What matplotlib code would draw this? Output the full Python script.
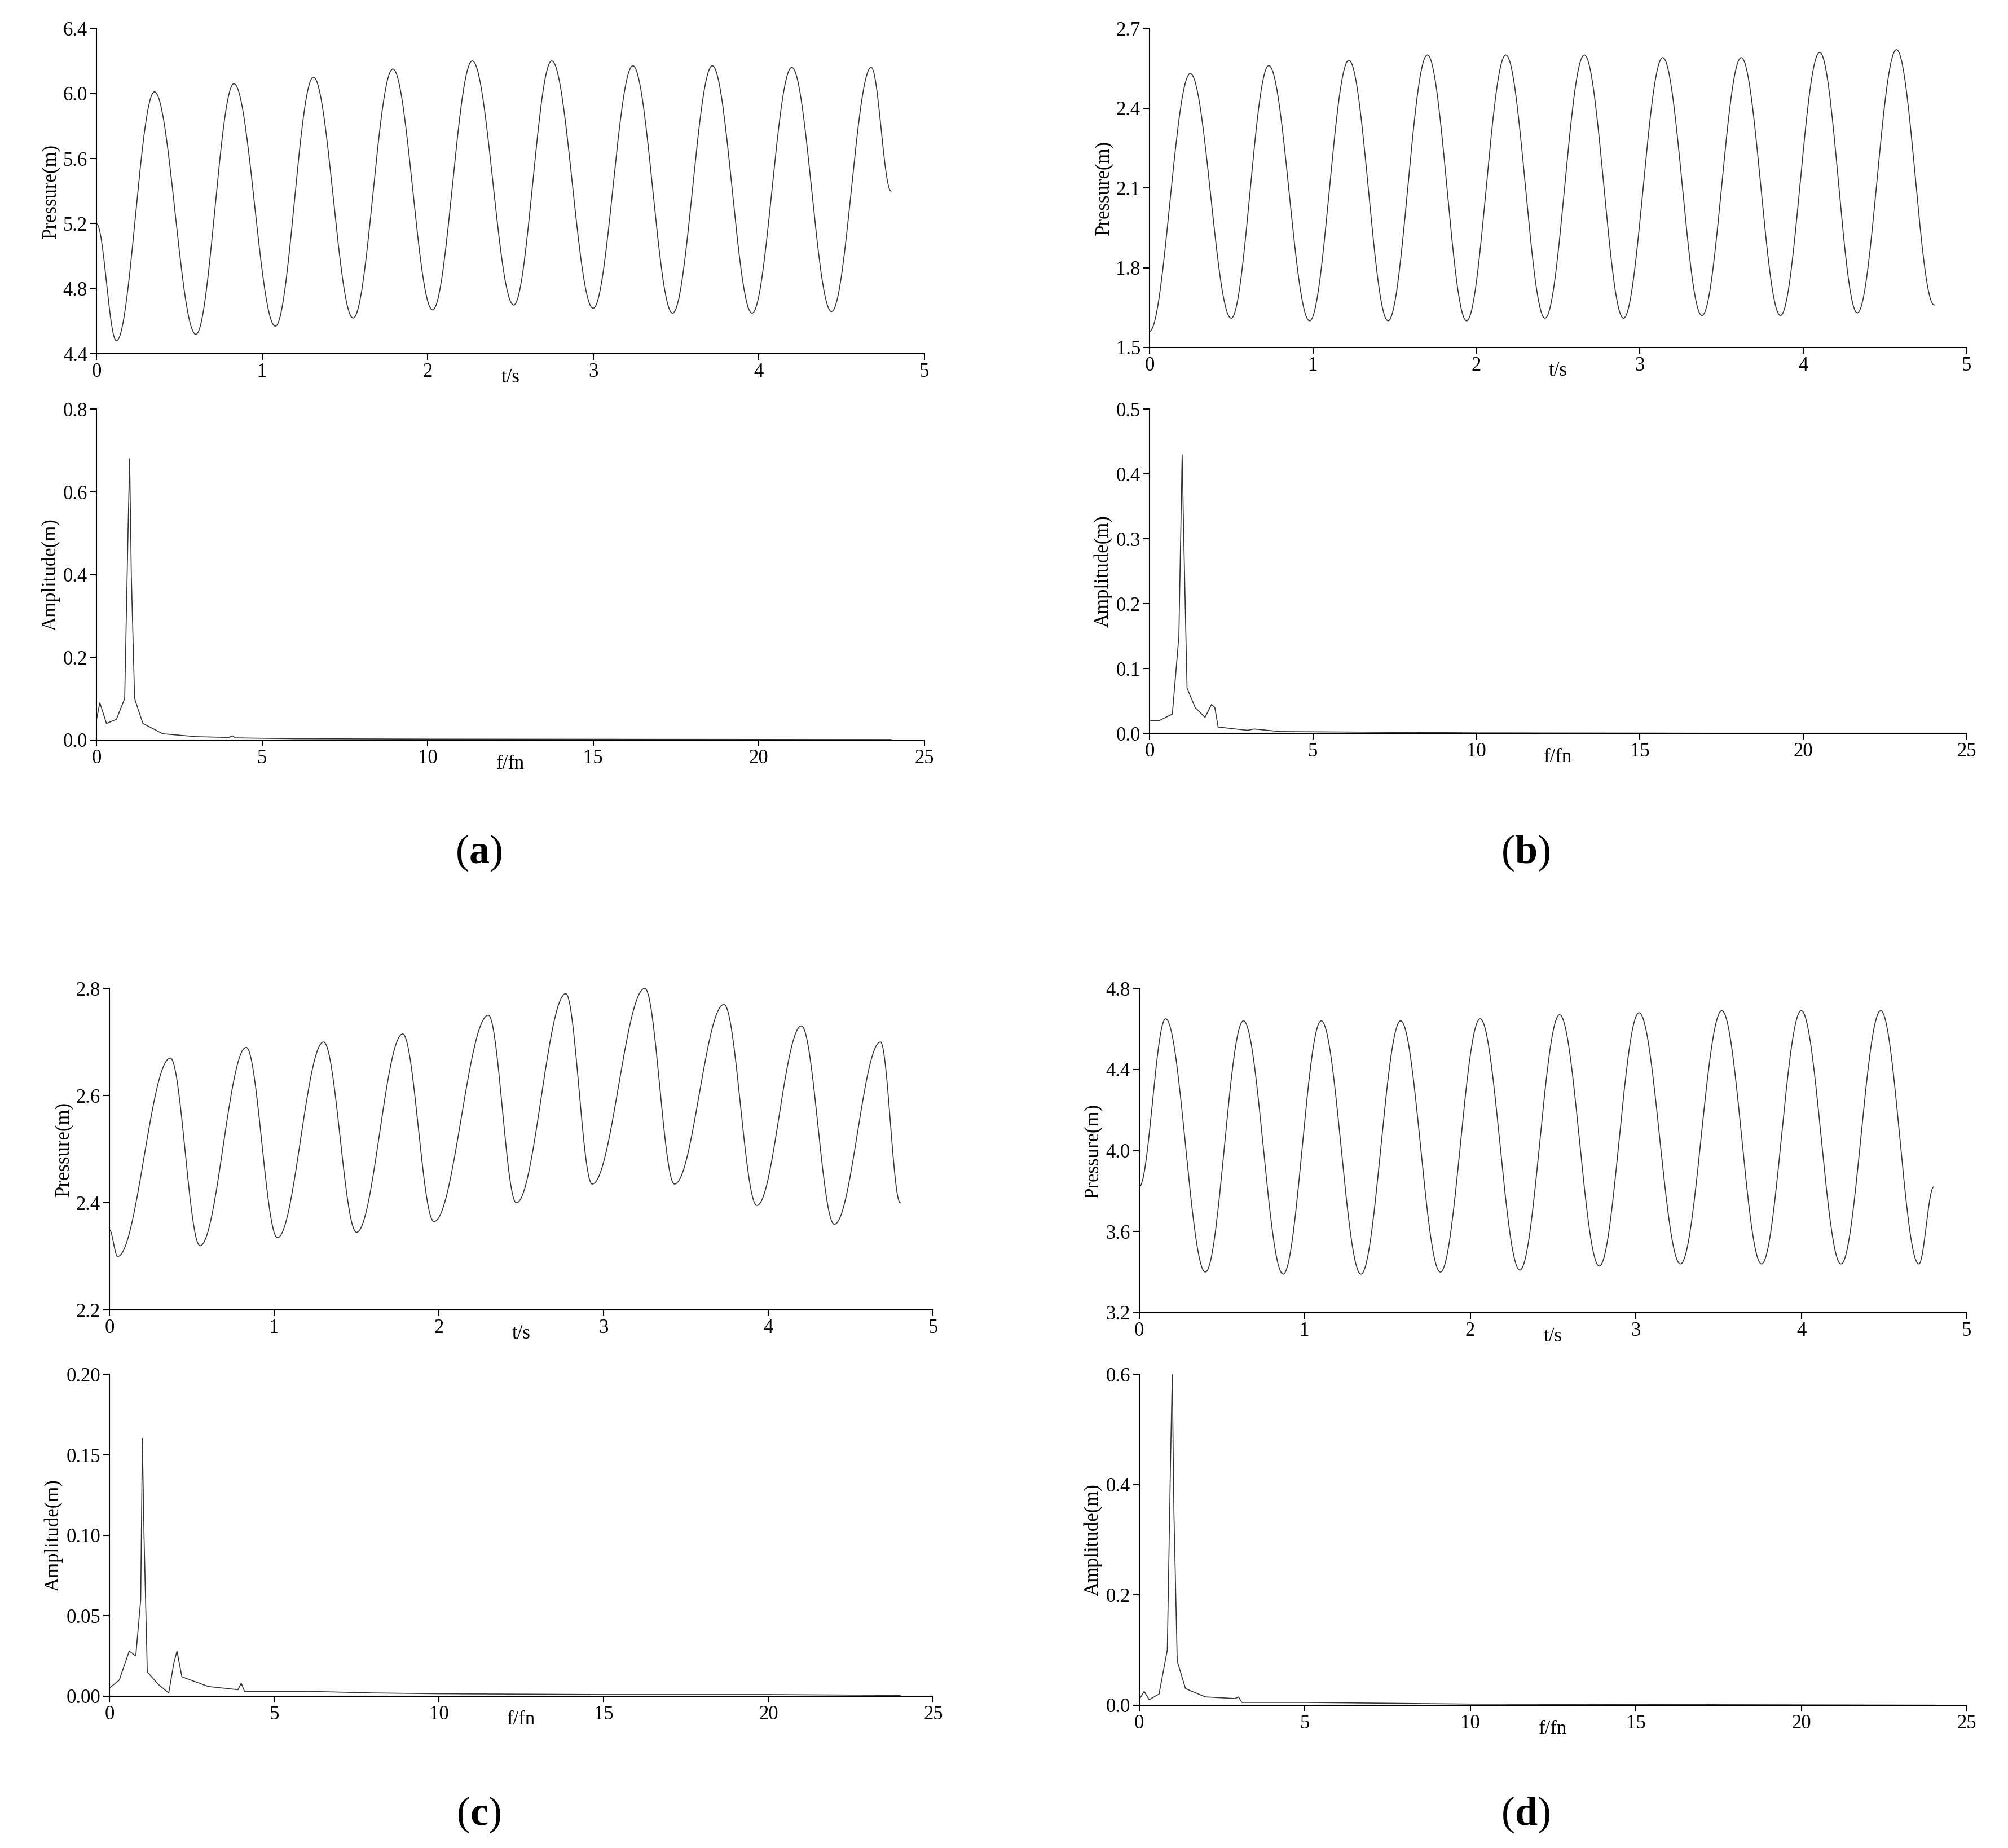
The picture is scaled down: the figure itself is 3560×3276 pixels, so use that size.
import numpy as np
import matplotlib
matplotlib.use("Agg")
import matplotlib.pyplot as plt

plt.rcParams['font.family'] = ['Liberation Serif', 'DejaVu Serif']
plt.rcParams['mathtext.fontset'] = 'custom'
plt.rcParams['mathtext.bf'] = 'Liberation Serif:bold'
plt.rcParams['mathtext.rm'] = 'Liberation Serif'

# Time-series extrema (t, pressure)
a_t = [0, 0.12, 0.35, 0.6, 0.83, 1.08, 1.31, 1.55, 1.79, 2.03, 2.27, 2.52, 2.75, 3.0, 3.24, 3.48, 3.72, 3.96, 4.2, 4.44, 4.68, 4.8]
a_p = [5.2, 4.48, 6.01, 4.52, 6.06, 4.57, 6.1, 4.62, 6.15, 4.67, 6.2, 4.7, 6.2, 4.68, 6.17, 4.65, 6.17, 4.65, 6.16, 4.66, 6.16, 5.4]
b_t = [0, 0.25, 0.5, 0.73, 0.98, 1.22, 1.46, 1.7, 1.94, 2.18, 2.42, 2.66, 2.9, 3.14, 3.38, 3.62, 3.86, 4.1, 4.33, 4.57, 4.8]
b_p = [1.56, 2.53, 1.61, 2.56, 1.6, 2.58, 1.6, 2.6, 1.6, 2.6, 1.61, 2.6, 1.61, 2.59, 1.62, 2.59, 1.62, 2.61, 1.63, 2.62, 1.66]
c_t = [0, 0.05, 0.37, 0.55, 0.83, 1.02, 1.3, 1.5, 1.78, 1.97, 2.3, 2.47, 2.77, 2.93, 3.25, 3.43, 3.73, 3.93, 4.2, 4.4, 4.68, 4.8]
c_p = [2.35, 2.3, 2.67, 2.32, 2.69, 2.335, 2.70, 2.345, 2.715, 2.365, 2.75, 2.40, 2.79, 2.435, 2.80, 2.435, 2.77, 2.395, 2.73, 2.36, 2.70, 2.40]
d_t = [0, 0.16, 0.4, 0.63, 0.87, 1.1, 1.34, 1.58, 1.82, 2.06, 2.3, 2.54, 2.78, 3.02, 3.27, 3.52, 3.76, 4.0, 4.24, 4.48, 4.71, 4.8]
d_p = [3.82, 4.65, 3.4, 4.64, 3.39, 4.64, 3.39, 4.64, 3.4, 4.65, 3.41, 4.67, 3.43, 4.68, 3.44, 4.69, 3.44, 4.69, 3.44, 4.69, 3.44, 3.82]

# Spectra (f/fn, amplitude)
a_f = [0, 0.1, 0.3, 0.6, 0.85, 0.95, 1.0, 1.05, 1.15, 1.4, 2, 3, 4, 4.1, 4.2, 6, 10, 24]
a_a = [0.05, 0.09, 0.04, 0.05, 0.1, 0.5, 0.68, 0.4, 0.1, 0.04, 0.015, 0.008, 0.006, 0.01, 0.005, 0.003, 0.002, 0.001]
b_f = [0, 0.3, 0.7, 0.9, 1.0, 1.05, 1.15, 1.4, 1.7, 1.9, 2.0, 2.1, 3, 3.2, 4, 10, 24]
b_a = [0.02, 0.02, 0.03, 0.15, 0.43, 0.3, 0.07, 0.04, 0.025, 0.045, 0.04, 0.01, 0.005, 0.007, 0.003, 0.001, 0.0]
c_f = [0, 0.3, 0.6, 0.8, 0.95, 1.0, 1.05, 1.15, 1.5, 1.8, 1.95, 2.05, 2.2, 3, 3.9, 4.0, 4.1, 6, 8, 10, 15, 20, 24]
c_a = [0.005, 0.01, 0.028, 0.025, 0.06, 0.16, 0.1, 0.015, 0.007, 0.002, 0.02, 0.028, 0.012, 0.006, 0.004, 0.008, 0.003, 0.003, 0.002, 0.0015, 0.001, 0.001, 0.0005]
d_f = [0, 0.15, 0.3, 0.6, 0.85, 0.95, 1.0, 1.05, 1.15, 1.4, 2, 2.9, 3.0, 3.1, 5, 10, 24]
d_a = [0.01, 0.025, 0.01, 0.02, 0.1, 0.45, 0.6, 0.35, 0.08, 0.03, 0.015, 0.012, 0.015, 0.005, 0.005, 0.002, 0.0]

def smooth(t, p, n=40):
    xs, ys = [], []
    for i in range(len(t) - 1):
        s = np.linspace(0, 1, n, endpoint=False)
        w = (1 - np.cos(np.pi * s)) / 2
        xs.append(t[i] + (t[i + 1] - t[i]) * s)
        ys.append(p[i] + (p[i + 1] - p[i]) * w)
    xs.append([t[-1]]); ys.append([p[-1]])
    return np.concatenate(xs), np.concatenate(ys)

W, H = 1560, 1436
fig = plt.figure(figsize=(35.6, 32.76), dpi=100)
FS = 25

def ax_at(x0, x1, y0, y1):
    return fig.add_axes([x0 / W, 1 - y1 / H, (x1 - x0) / W, (y1 - y0) / H])

def style(ax):
    ax.spines['top'].set_visible(False)
    ax.spines['right'].set_visible(False)
    ax.tick_params(labelsize=FS, width=1.5, length=8)
    for s in ax.spines.values():
        s.set_linewidth(1.5)

panels = [
    ("a", (75, 718, 22, 275), (75, 718, 318, 575), a_t, a_p, (4.4, 6.4), np.arange(4.4, 6.41, 0.4), "%.1f",
     a_f, a_a, (0, 0.8), np.arange(0, 0.81, 0.2), "%.1f", (372, 663)),
    ("b", (893, 1528, 22, 270), (893, 1528, 318, 570), b_t, b_p, (1.5, 2.7), np.arange(1.5, 2.71, 0.3), "%.1f",
     b_f, b_a, (0, 0.5), np.arange(0, 0.51, 0.1), "%.1f", (1185, 663)),
    ("c", (85, 725, 768, 1018), (85, 725, 1068, 1318), c_t, c_p, (2.2, 2.8), np.arange(2.2, 2.81, 0.2), "%.1f",
     c_f, c_a, (0, 0.2), np.arange(0, 0.201, 0.05), "%.2f", (372, 1410)),
    ("d", (885, 1528, 768, 1020), (885, 1528, 1068, 1325), d_t, d_p, (3.2, 4.8), np.arange(3.2, 4.81, 0.4), "%.1f",
     d_f, d_a, (0, 0.6), np.arange(0, 0.61, 0.2), "%.1f", (1185, 1410)),
]

for (lab, r1, r2, t, p, yl, yt, yfmt, f, a, yl2, yt2, yfmt2, lp) in panels:
    ax = ax_at(*r1)
    x, y = smooth(t, p)
    ax.plot(x, y, color='#333333', lw=1.2)
    ax.set_xlim(0, 5); ax.set_ylim(*yl)
    ax.set_xticks(range(6)); ax.set_yticks(yt)
    ax.set_yticklabels([yfmt % v for v in yt])
    ax.set_ylabel("Pressure(m)", fontsize=FS)
    ax.set_xlabel("t/s", fontsize=FS)
    ax.xaxis.set_label_coords(0.5, -0.045)
    style(ax)

    ax2 = ax_at(*r2)
    ax2.plot(f, a, color='#333333', lw=1.2)
    ax2.set_xlim(0, 25); ax2.set_ylim(*yl2)
    ax2.set_xticks(range(0, 26, 5)); ax2.set_yticks(yt2)
    ax2.set_yticklabels([yfmt2 % v for v in yt2])
    ax2.set_ylabel("Amplitude(m)", fontsize=FS)
    ax2.set_xlabel("f/fn", fontsize=FS)
    ax2.xaxis.set_label_coords(0.5, -0.045)
    style(ax2)

    fig.text(lp[0] / W, 1 - lp[1] / H, "(" + r"$\mathbf{" + lab + "}$" + ")",
             fontsize=52, ha='center', va='center')

fig.savefig("out.png", dpi=100)
